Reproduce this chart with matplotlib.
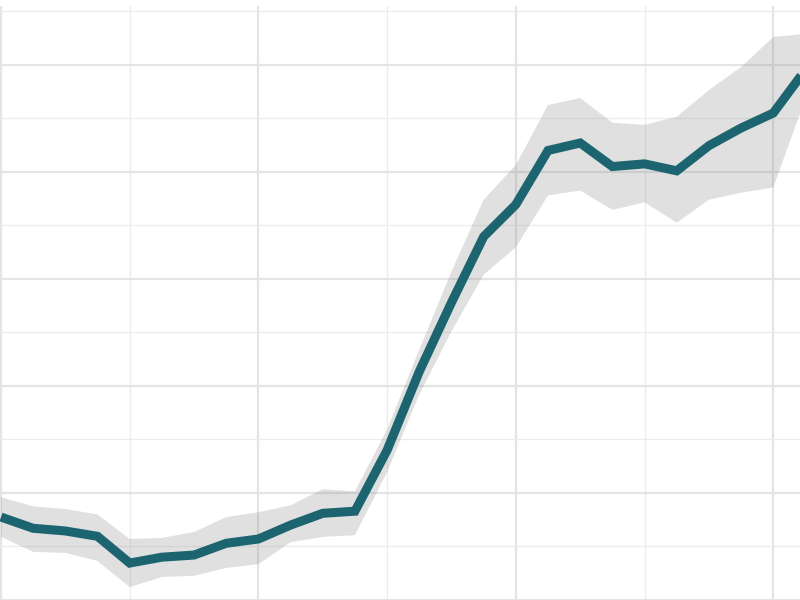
import matplotlib
matplotlib.use("Agg")
import matplotlib.pyplot as plt
import numpy as np

# Data (index along x, value with confidence band)
x_idx = list(range(26))
mean_vals = [1.55, 1.34, 1.29, 1.19, 0.69, 0.80, 0.84, 1.06, 1.14, 1.40,
             1.62, 1.66, 2.80, 4.27, 5.56, 6.79, 7.39, 8.40, 8.54, 8.10,
             8.15, 8.02, 8.49, 8.82, 9.10, 9.91]
upper_vals = [1.92, 1.75, 1.70, 1.60, 1.14, 1.16, 1.27, 1.55, 1.64, 1.77,
              2.07, 2.03, 3.19, 4.68, 6.14, 7.48, 8.13, 9.25, 9.38, 8.92,
              8.88, 9.03, 9.53, 9.96, 10.52, 10.58]
lower_vals = [1.18, 0.90, 0.88, 0.73, 0.24, 0.43, 0.45, 0.60, 0.67, 1.08,
              1.18, 1.21, 2.39, 3.84, 5.02, 6.08, 6.59, 7.56, 7.65, 7.29,
              7.43, 7.05, 7.48, 7.61, 7.71, 9.37]

fig = plt.figure(figsize=(8, 6), dpi=100)
ax = fig.add_axes([0, 0, 1, 594 / 600])

ax.fill_between(x_idx, lower_vals, upper_vals, color="#808080", alpha=0.24,
                linewidth=0, zorder=2)
ax.plot(x_idx, mean_vals, color="#1c6570", linewidth=6.5, zorder=3,
        solid_joinstyle="miter", solid_capstyle="butt")

ax.set_xlim(-0.03, 24.83)
ax.set_ylim(0.019, 11.10)

ax.set_xticks([0, 8, 16, 24])
ax.set_xticks([4, 12, 20], minor=True)
ax.set_yticks([0, 2, 4, 6, 8, 10])
ax.set_yticks([1, 3, 5, 7, 9, 11], minor=True)
ax.grid(which="major", color="#e4e4e4", linewidth=1.6, zorder=0)
ax.grid(which="minor", color="#ececec", linewidth=0.9, zorder=0)
ax.set_axisbelow(True)
ax.tick_params(which="both", length=0, labelbottom=False, labelleft=False)
for s in ax.spines.values():
    s.set_visible(False)

fig.savefig("out.png", dpi=100)
